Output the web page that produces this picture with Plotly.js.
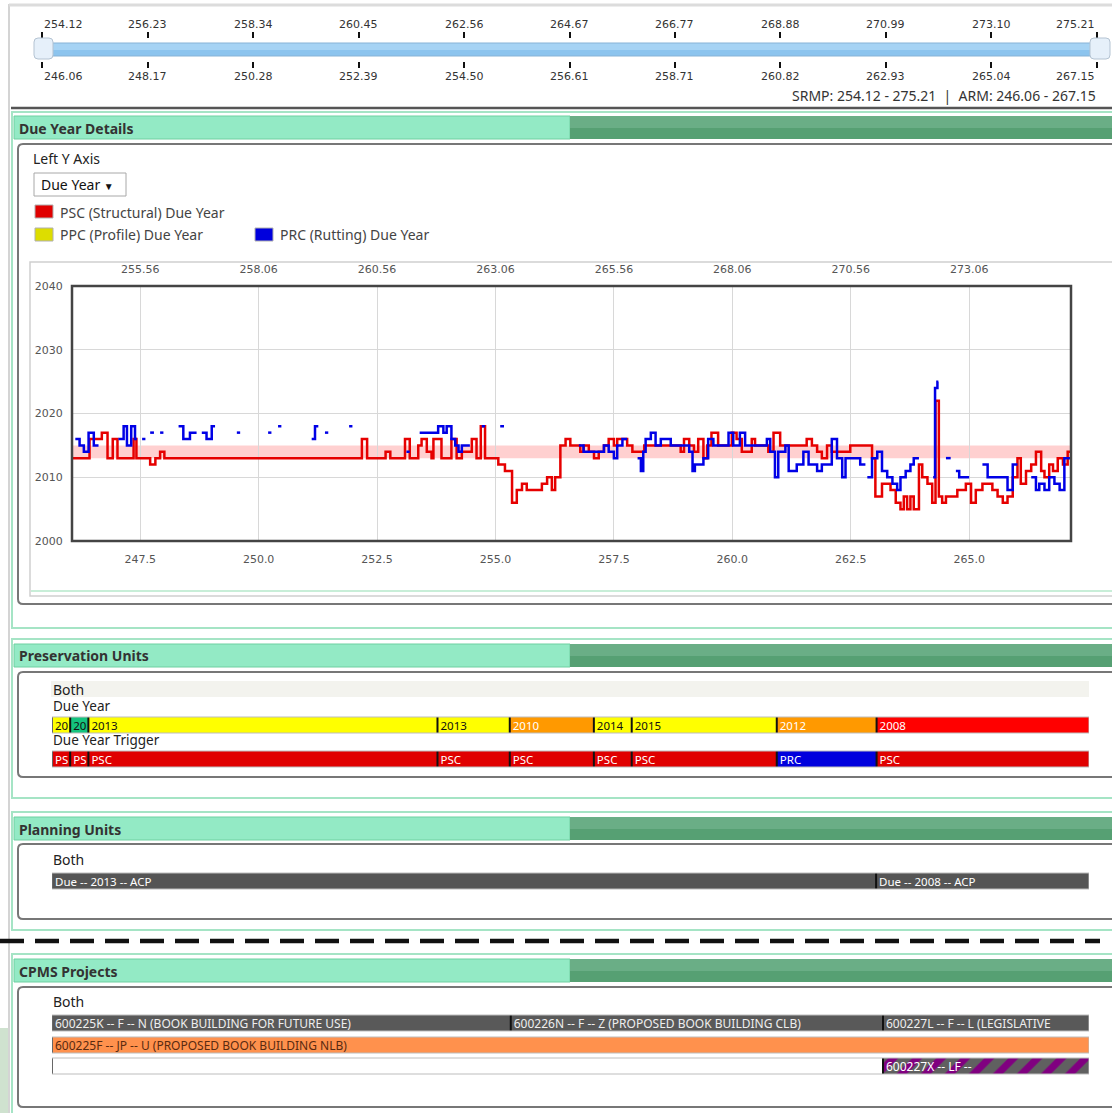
<!DOCTYPE html>
<html><head><meta charset="utf-8">
<script src="https://cdn.plot.ly/plotly-3.0.1.min.js"></script>
<style>html,body{margin:0;padding:0;background:#fff;overflow:hidden}#chart{width:1112px;height:1113px}</style>
</head><body><div id="chart"></div>
<script>
// ---------------- DATA ----------------
const srmpTicks = [254.12,256.23,258.34,260.45,262.56,264.67,266.77,268.88,270.99,273.10,275.21];
const armTicks  = [246.06,248.17,250.28,252.39,254.50,256.61,258.71,260.82,262.93,265.04,267.15];
const armRange  = [246.06,267.15];
const srmpRange = [254.12,275.21];
const bottomTicks = [247.5,250.0,252.5,255.0,257.5,260.0,262.5,265.0];
const topTicks    = [255.56,258.06,260.56,263.06,265.56,268.06,270.56,273.06];
const yearTicks   = [2000,2010,2020,2030,2040];
const targetBand  = [2013,2015];

const redX = [246.06,246.43,246.69,246.81,246.92,247.02,247.36,247.42,247.71,247.82,247.92,248.01,252.18,252.29,252.68,252.78,253.09,253.19,253.37,253.44,253.55,253.65,253.69,253.86,254.07,254.18,254.29,254.50,254.60,254.69,254.78,255.06,255.20,255.35,255.45,255.56,255.66,255.98,256.09,256.19,256.26,256.37,256.48,256.58,256.79,256.86,256.97,257.08,257.18,257.29,257.39,257.50,257.57,257.78,257.89,258.14,258.91,258.98,259.09,259.19,259.28,259.39,259.47,259.56,259.70,259.99,260.09,260.20,260.41,260.48,260.76,260.87,261.01,261.57,261.68,261.79,261.89,262.00,262.10,262.49,262.95,263.02,263.16,263.34,263.45,263.55,263.62,263.69,263.76,263.83,263.94,264.01,264.12,264.22,264.29,264.36,264.43,264.51,264.75,264.93,265.04,265.14,265.28,265.49,265.60,265.71,265.81,265.92,266.02,266.09,266.20,266.31,266.41,266.52,266.59,266.69,266.77,266.87,266.98,267.08,267.15];
const redY = [2013,2016,2017,2013,2016,2013,2016,2013,2012,2013,2014,2013,2016,2013,2014,2013,2016,2013,2015,2016,2014,2013,2016,2013,2016,2013,2014,2016,2013,2018,2013,2012,2011,2006,2008,2009,2008,2009,2010,2008,2010,2015,2016,2015,2014,2015,2014,2013,2014,2015,2016,2015,2016,2015,2014,2015,2014,2016,2015,2014,2016,2013,2015,2017,2015,2017,2016,2014,2016,2015,2014,2017,2015,2016,2015,2014,2013,2015,2014,2015,2013,2007,2009,2008,2006,2005,2007,2005,2007,2005,2012,2010,2009,2006,2022,2007,2006,2007,2008,2009,2006,2008,2009,2008,2007,2006,2007,2010,2013,2009,2011,2012,2014,2011,2010,2012,2011,2013,2012,2014,2014];

const blueX = [246.13,246.22,246.31,246.41,246.52,246.62,246.62,
 247.04,247.15,247.22,247.31,247.39,247.43,247.43,
 247.54,247.61,247.61, 247.71,247.79,247.79, 247.92,247.99,247.99,
 248.31,248.41,248.55,248.69,248.69, 248.80,248.90,249.01,249.08,249.08,
 249.54,249.61,249.61, 250.20,250.27,250.27, 250.41,250.48,250.48,
 251.12,251.19,251.26,251.26, 251.40,251.47,251.47, 251.91,251.98,251.98,
 253.12,253.19,253.19,
 253.40,253.79,253.90,253.97,254.07,254.15,254.22,254.29,254.46,254.46,
 254.71,254.78,254.78, 255.10,255.18,255.18,
 256.76,256.86,257.29,257.39,257.50,257.57,257.68,257.78,257.78,
 258.00,258.07,258.12,258.17,258.28,258.38,258.49,258.70,259.09,259.16,259.21,259.39,259.49,259.60,259.92,260.02,260.16,260.27,260.73,260.80,260.90,260.97,261.12,261.19,261.36,261.50,261.61,261.79,261.89,262.10,262.21,262.32,262.39,262.70,262.81,262.81,
 262.85,262.95,263.06,263.16,263.27,263.38,263.48,263.55,263.66,263.76,263.83,263.94,263.94,
 264.24,264.28,264.33,264.35,264.35,
 264.51,264.61,264.61,
 264.72,264.79,265.00,265.00,
 265.28,265.39,265.81,265.92,266.02,266.02,
 266.31,266.41,266.48,266.59,266.69,266.80,266.91,267.01,267.15];
const blueY = [2016,2015,2014,2017,2015,2015,null,
 2016,2018,2015,2018,2016,2016,null,
 2016,2016,null, 2017,2017,null, 2017,2017,null,
 2018,2016,2017,2017,null, 2017,2016,2018,2018,null,
 2017,2017,null, 2017,2017,null, 2018,2018,null,
 2016,2018,2018,null, 2017,2017,null, 2018,2018,null,
 2014,2014,null,
 2017,2018,2017,2018,2016,2015,2014,2015,2015,null,
 2018,2018,null, 2018,2018,null,
 2015,2014,2015,2014,2013,2015,2016,2016,null,
 2013,2011,2014,2016,2017,2015,2016,2015,2014,2011,2012,2013,2016,2015,2017,2015,2017,2015,2016,2014,2010,2014,2015,2011,2012,2014,2012,2011,2012,2016,2013,2010,2013,2012,2012,null,
 2010,2013,2014,2011,2010,2009,2008,2010,2011,2012,2013,2013,null,
 2010,2024,2025,2025,null,
 2013,2013,null,
 2011,2010,2010,null,
 2012,2010,2008,2012,2012,null,
 2010,2008,2009,2008,2010,2009,2008,2013,2013];

// Preservation units
const puStart   = [246.06,246.43,246.80,253.90,255.37,257.08,257.85,260.80,262.83];
const puYear    = ['20','20','2013','2013','2010','2014','2015','2012','2008'];
const puYearCol = ['#ffff00','#14c37e','#ffff00','#ffff00','#ff9900','#ffff00','#ffff00','#ff9900','#ff0000'];
const puYearTxt = ['#111','#111','#111','#111','#fff','#111','#111','#fff','#fff'];
const puTrig    = ['PS','PS','PSC','PSC','PSC','PSC','PSC','PRC','PSC'];
const puTrigCol = ['#e00000','#e00000','#e00000','#e00000','#e00000','#e00000','#e00000','#0000dd','#e00000'];
// Planning units
const planStart = [246.06,262.82];
const planLabel = ['Due -- 2013 -- ACP','Due -- 2008 -- ACP'];
// CPMS projects
const cp1Start = [246.06,255.39,262.96];
const cp1Label = ['600225K -- F -- N (BOOK BUILDING FOR FUTURE USE)','600226N -- F -- Z (PROPOSED BOOK BUILDING CLB)','600227L -- F -- L (LEGISLATIVE'];
const cp2Start = [246.06];
const cp2Label = ['600225F -- JP -- U (PROPOSED BOOK BUILDING NLB)'];
const cp3Start = [246.06,262.96];
const cp3Label = ['','600227X -- LF --'];

// ---------------- LAYOUT HELPERS ----------------
const W=1112,H=1113;
const X=v=>v/W, Y=v=>1-v/H;
const UI='Noto Sans', NUM='DejaVu Sans';
const shapes=[], ann=[];
function rect(x0,y0,x1,y1,fill,lc,lw,layer){shapes.push({type:'rect',xref:'paper',yref:'paper',x0:X(x0),x1:X(x1),y0:Y(y1),y1:Y(y0),fillcolor:fill||'rgba(0,0,0,0)',line:{color:lc||'rgba(0,0,0,0)',width:lw||0},layer:layer||'below'});}
function line(x0,y0,x1,y1,c,w,dash,layer){shapes.push({type:'line',xref:'paper',yref:'paper',x0:X(x0),x1:X(x1),y0:Y(y0),y1:Y(y1),line:{color:c,width:w,dash:dash||'solid'},layer:layer||'below'});}
function rrect(x0,y0,x1,y1,r,fill,lc,lw,layer){
  const p=`M${X(x0+r)},${Y(y0)} L${X(x1-r)},${Y(y0)} Q${X(x1)},${Y(y0)} ${X(x1)},${Y(y0+r)} L${X(x1)},${Y(y1-r)} Q${X(x1)},${Y(y1)} ${X(x1-r)},${Y(y1)} L${X(x0+r)},${Y(y1)} Q${X(x0)},${Y(y1)} ${X(x0)},${Y(y1-r)} L${X(x0)},${Y(y0+r)} Q${X(x0)},${Y(y0)} ${X(x0+r)},${Y(y0)} Z`;
  shapes.push({type:'path',xref:'paper',yref:'paper',path:p,fillcolor:fill||'rgba(0,0,0,0)',line:{color:lc,width:lw},layer:layer||'below'});}
function txt(x,y,s,size,color,opt){opt=opt||{};ann.push({xref:'paper',yref:'paper',x:X(x),y:Y(y),text:s,showarrow:false,xanchor:opt.xa||'left',yanchor:'middle',font:{family:opt.fam||UI,size:size,color:color||'#222'},borderpad:0});}

// page frame
line(9,4,9,1113,'#d4d4d4',2);
line(9,5,1112,5,'#dcdcdc',3);
rect(0,1028,8,1113,'#cfe2cf');
// slider
line(11,108,1112,108,'#555',2.5);
rect(36,43,1106,50,'#a6d3f4');
rect(36,50,1106,56,'#8cc4ee');
rect(36,43,1106,56,null,'#87b3d6',1);
rrect(34,38,53,59,4,'#e6f0fa','#b4c3d2',1,'above');
rrect(1090,38,1110,59,4,'#e6f0fa','#b4c3d2',1,'above');
srmpTicks.forEach((v,i)=>ann.push({xref:'x5',yref:'paper',x:v,y:Y(24),text:v.toFixed(2),showarrow:false,xanchor:i===0?'left':(i===srmpTicks.length-1?'right':'center'),yanchor:'middle',font:{family:NUM,size:11,color:'#333'}}));
armTicks.forEach((v,i)=>ann.push({xref:'x4',yref:'paper',x:v,y:Y(77),text:v.toFixed(2),showarrow:false,xanchor:i===0?'left':(i===armTicks.length-1?'right':'center'),yanchor:'middle',font:{family:NUM,size:11,color:'#333'}}));
ann.push({xref:'paper',yref:'paper',x:X(1098),y:Y(95),text:`SRMP: ${srmpRange[0].toFixed(2)} - ${srmpRange[1].toFixed(2)}  |  ARM: ${armRange[0].toFixed(2)} - ${armRange[1].toFixed(2)}`,showarrow:false,xanchor:'right',yanchor:'middle',font:{family:UI,size:14,color:'#333'}});

function header(top,label){
  rect(14,top,570,top+23,'#93eac5','#6fd0a1',1);
  rect(570,top,1112,top+12,'#6aae86');
  rect(570,top+12,1112,top+23,'#56a073');
  txt(18,top+12,'<b>'+label+'</b>',14,'#333');
}
// containers
rect(12,112,1125,628,null,'#a5e4c5',2);
rect(12,639,1125,798,null,'#a5e4c5',2);
rect(12,812,1125,930,null,'#a5e4c5',2);
rect(12,954,1125,1125,null,'#a5e4c5',2);
header(116,'Due Year Details');
header(644,'Preservation Units');
header(817,'Planning Units');
header(959,'CPMS Projects');
// due-year panel
rrect(18,144,1125,604,5,'#fff','#777',2);
txt(32,159,'Left Y Axis',14,'#222');
rect(34,173,126,196,'#fff','#a8a8a8',1);
txt(40,184,'Due Year <span style="font-size:10px">▼</span>',14,'#111');
rect(35,205,53,218,'#e00000','#b0b0b0',1);
txt(59,212,'PSC (Structural) Due Year',14,'#444');
rect(35,228,53,241,'#dddd00','#b0b0b0',1);
txt(59,234,'PPC (Profile) Due Year',14,'#444');
rect(255,228,273,241,'#0000dd','#b0b0b0',1);
txt(279,234,'PRC (Rutting) Due Year',14,'#444');
rect(30,262,1125,596,null,'#cfcfcf',1.5);
line(31,591,1112,591,'#c8eed8',2);
// band
shapes.push({type:'rect',xref:'x',yref:'y',x0:armRange[0],x1:armRange[1],y0:targetBand[0],y1:targetBand[1],fillcolor:'rgba(255,120,120,0.35)',line:{width:0},layer:'below'});
// plot frame
rect(72,286,1071,541,null,'#444',2.5,'above');

// preservation panel
rrect(18,672,1125,777,5,'#fff','#777',2);
rect(51,681,1089,697,'#f3f3ee');
txt(52,689,'Both',14,'#222');
txt(52,706,'Due Year',13.5,'#222');
txt(52,740,'Due Year Trigger',13.5,'#222');
// planning panel
rrect(18,844,1125,919,5,'#fff','#777',2);
txt(52,859,'Both',14,'#222');
// cpms panel
rrect(18,987,1125,1107,5,'#fff','#777',2);
txt(52,1001,'Both',14,'#222');
// dashed divider
line(0,941,1100,941,'#111',4.5,'24px,11px','above');

// ---------------- TRACES ----------------
const traces=[];
traces.push({type:'scatter',mode:'lines',x:redX,y:redY,xaxis:'x',yaxis:'y',line:{shape:'hv',color:'#e60000',width:2.5},connectgaps:false,hoverinfo:'skip',showlegend:false});
traces.push({type:'scatter',mode:'lines',x:blueX,y:blueY,xaxis:'x',yaxis:'y',line:{shape:'hv',color:'#0000e6',width:2.5},connectgaps:false,hoverinfo:'skip',showlegend:false});
traces.push({type:'scatter',x:[],y:[],xaxis:'x2',yaxis:'y',showlegend:false});
traces.push({type:'scatter',x:[],y:[],xaxis:'x4',yaxis:'y9',showlegend:false});
traces.push({type:'scatter',x:[],y:[],xaxis:'x5',yaxis:'y9',showlegend:false});

function barRow(starts,labels,colors,txtColors,yax,fsize,patterns){
  const ends=starts.slice(1).concat([armRange[1]]);
  starts.forEach((s,i)=>{
    const col=Array.isArray(colors)?colors[i]:colors;
    const tc=Array.isArray(txtColors)?txtColors[i]:txtColors;
    const m={color:col,line:{width:0}};
    if(patterns&&patterns[i]) m.pattern={shape:'/',fgcolor:patterns[i],bgcolor:col,fgopacity:1,size:17,solidity:0.42,fillmode:'replace'};
    traces.push({type:'bar',orientation:'h',xaxis:'x3',yaxis:yax,y:[0],base:[s],x:[ends[i]-s],width:1,
      marker:m,text:[labels[i]],textposition:'inside',insidetextanchor:'start',textangle:0,constraintext:'none',
      textfont:{family:UI,size:fsize,color:tc},hoverinfo:'skip',showlegend:false,cliponaxis:false});
    shapes.push({type:'line',xref:'x3',yref:yax+' domain',x0:s,x1:s,y0:0,y1:1,line:{color:'#111',width:2},layer:'above'});
  });
  shapes.push({type:'rect',xref:'x3',yref:yax+' domain',x0:armRange[0],x1:armRange[1],y0:0,y1:1,line:{color:'#bdbdbd',width:1},layer:'above'});
}
barRow(puStart,puYear,puYearCol,puYearTxt,'y3',11.5);
barRow(puStart,puTrig,puTrigCol,'#fff','y4',11.5);
barRow(planStart,planLabel,'#555555','#fff','y5',11.5);
barRow(cp1Start,cp1Label,'#595959','#eeeeee','y6',12);
barRow(cp2Start,cp2Label,'#ff914d','#5a2a10','y7',12);
barRow(cp3Start,cp3Label,['#ffffff','#606060'],'#fff','y8',12,[null,'#800080']);

// ---------------- AXES ----------------
const hid={visible:false,fixedrange:true};
const layout={
  width:W,height:H,autosize:false,margin:{l:0,r:0,t:0,b:0,pad:0},
  paper_bgcolor:'#fff',plot_bgcolor:'rgba(0,0,0,0)',font:{family:NUM,size:11,color:'#555'},
  showlegend:false,bargap:0,barmode:'overlay',
  xaxis:{domain:[X(72),X(1071)],anchor:'y',range:armRange,tickvals:bottomTicks,tickformat:'.1f',showgrid:true,gridcolor:'#d8d8d8',gridwidth:1,zeroline:false,showline:false,ticks:'outside',ticklen:8,tickcolor:'rgba(0,0,0,0)',tickfont:{family:NUM,size:11,color:'#555'}},
  xaxis2:{overlaying:'x',side:'top',anchor:'y',range:srmpRange,tickvals:topTicks,tickformat:'.2f',showgrid:false,zeroline:false,ticks:'outside',ticklen:8,tickcolor:'rgba(0,0,0,0)',tickfont:{family:NUM,size:11,color:'#555'}},
  yaxis:{domain:[Y(541),Y(286)],anchor:'x',range:[2000,2040],tickvals:yearTicks,showgrid:true,gridcolor:'#d8d8d8',zeroline:false,ticks:'outside',ticklen:6,tickcolor:'rgba(0,0,0,0)',tickfont:{family:NUM,size:11,color:'#555'}},
  xaxis3:Object.assign({domain:[X(52),X(1089)],anchor:'y3',range:armRange},hid),
  yaxis3:Object.assign({domain:[Y(733),Y(717)],anchor:'x3',range:[-0.5,0.5]},hid),
  yaxis4:Object.assign({domain:[Y(767),Y(751)],anchor:'x3',range:[-0.5,0.5]},hid),
  yaxis5:Object.assign({domain:[Y(889),Y(873)],anchor:'x3',range:[-0.5,0.5]},hid),
  yaxis6:Object.assign({domain:[Y(1031),Y(1015)],anchor:'x3',range:[-0.5,0.5]},hid),
  yaxis7:Object.assign({domain:[Y(1053),Y(1037)],anchor:'x3',range:[-0.5,0.5]},hid),
  yaxis8:Object.assign({domain:[Y(1074),Y(1058)],anchor:'x3',range:[-0.5,0.5]},hid),
  xaxis4:{domain:[X(42),X(1097)],anchor:'y9',range:armRange,tickvals:armTicks,showticklabels:false,ticks:'outside',ticklen:6,tickwidth:2,tickcolor:'#111',showgrid:false,zeroline:false,showline:false,fixedrange:true},
  xaxis5:{overlaying:'x4',side:'top',anchor:'y9',range:srmpRange,tickvals:srmpTicks,showticklabels:false,ticks:'outside',ticklen:6,tickwidth:2,tickcolor:'#111',showgrid:false,zeroline:false,showline:false,fixedrange:true},
  yaxis9:Object.assign({domain:[Y(61),Y(39)],anchor:'x4',range:[0,1]},hid),
  shapes:shapes,annotations:ann
};
Plotly.newPlot('chart',traces,layout,{displayModeBar:false,staticPlot:true});
</script></body></html>
